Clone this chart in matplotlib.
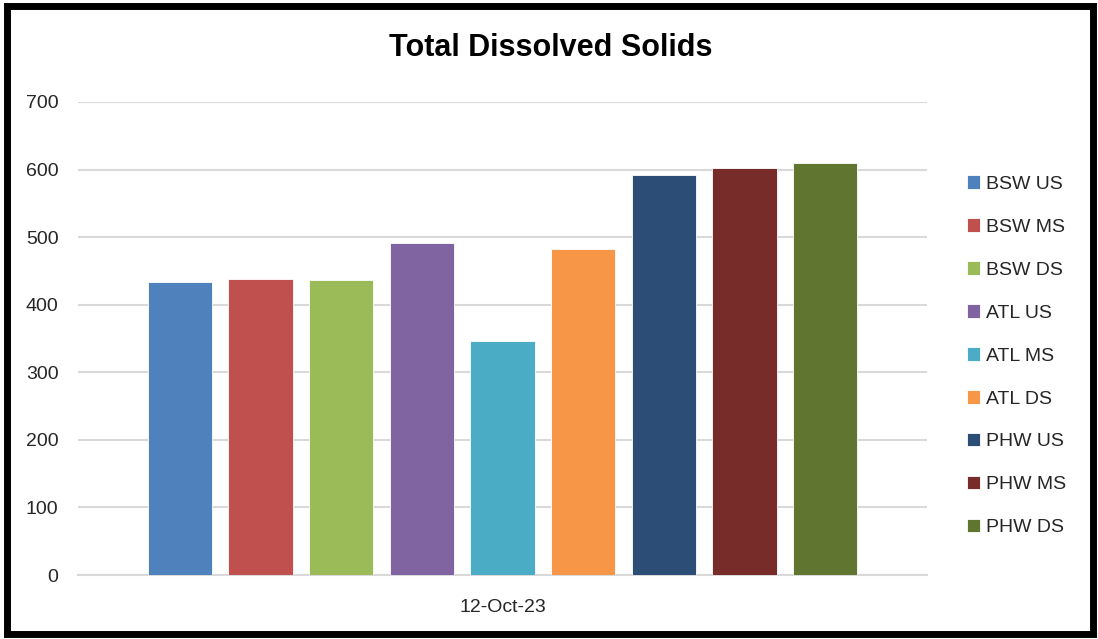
import matplotlib
matplotlib.use("Agg")
import matplotlib.pyplot as plt
from matplotlib.patches import Rectangle

# Data
series = ["BSW US", "BSW MS", "BSW DS", "ATL US", "ATL MS", "ATL DS",
          "PHW US", "PHW MS", "PHW DS"]
values = [434, 438, 436, 491, 346, 483, 592, 603, 610]
category = "12-Oct-23"
colors = ["#4F81BD", "#C0504D", "#9BBB59", "#8064A2", "#4BACC6",
          "#F79646", "#2C4D75", "#772C2A", "#5F7530"]
yticks = [0, 100, 200, 300, 400, 500, 600, 700]

plt.rcParams["font.family"] = ["Liberation Sans", "DejaVu Sans"]

W, H = 1098, 639
fig = plt.figure(figsize=(W / 100, H / 100), dpi=100)
ax = fig.add_axes([78 / W, 1 - 575 / H, (927 - 78) / W, (575 - 102) / H])

step = 0.095
width = 0.0755
n = len(series)
for i, (name, v, c) in enumerate(zip(series, values, colors)):
    x = (i - (n - 1) / 2) * step
    ax.bar(x, v, width=width, color=c, edgecolor="white", linewidth=0.6,
           label=name, zorder=3)

ax.set_xlim(-0.5, 0.5)
ax.set_ylim(0, 700)
ax.set_yticks(yticks)
ax.set_xticks([0])
ax.set_xticklabels([category])
ax.tick_params(axis="both", length=0, labelsize=14, colors="#262626")
ax.tick_params(axis="y", pad=14)
ax.tick_params(axis="x", pad=17)
ax.yaxis.grid(True, color="#d9d9d9", linewidth=1.5, zorder=0)
for s in ["left", "right", "top"]:
    ax.spines[s].set_visible(False)
ax.spines["bottom"].set_color("#d9d9d9")
ax.spines["bottom"].set_linewidth(1.5)

fig.text(551 / W, 1 - 48 / H, "Total Dissolved Solids", ha="center",
         va="center", fontsize=22, fontweight="bold", color="black")

leg = fig.legend(loc="upper left", bbox_to_anchor=(949 / W, 1 - 158 / H),
                 frameon=False, fontsize=14, handlelength=0.7,
                 handleheight=0.7, handletextpad=0.3, labelspacing=1.3,
                 labelcolor="#262626")

# Outer frame
fig.patches.append(Rectangle((7 / W, 5 / H), (1093 - 7) / W, (633 - 5) / H,
                             transform=fig.transFigure, fill=False,
                             edgecolor="black", linewidth=5))

fig.savefig("out.png", dpi=100)
